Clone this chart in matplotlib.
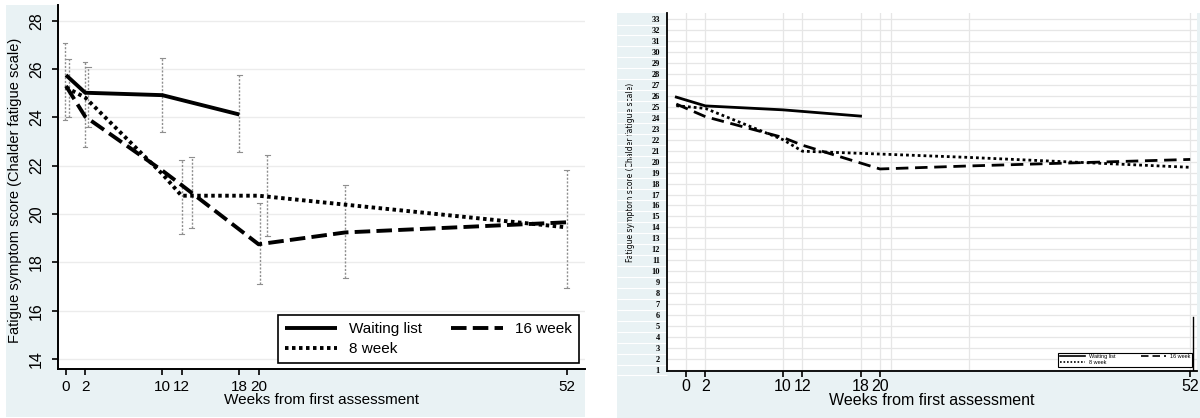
"""Fatigue score over time: two panel versions of the same trial plot."""
import matplotlib
matplotlib.use("Agg")
import matplotlib.pyplot as plt
from matplotlib.patches import Rectangle

W, H = 1200, 418
BG = "#e9f2f4"
SANS = ["Liberation Sans", "DejaVu Sans"]

# left panel (with confidence bars)
L_WEEKS_WAIT = [0, 2, 10, 18]
L_WAIT = [25.75, 25.02, 24.92, 24.12]
L_WEEKS_TX = [0, 2, 10, 12, 20, 29, 52]
L_16WK = [25.30, 24.03, 21.80, 21.20, 18.75, 19.24, 19.66]
L_8WK = [25.24, 24.82, 21.66, 20.76, 20.76, 20.39, 19.45]
# error bars: position, lower, upper
CI_X = [-0.1, 0.3, 1.97, 2.3, 10.0, 18.0, 12.0, 13.05, 20.1, 20.9, 29.0, 52.0]
CI_LO = [23.90, 24.00, 22.78, 23.60, 23.40, 22.58, 19.17, 19.41, 17.10, 19.09, 17.34, 16.93]
CI_HI = [27.06, 26.40, 26.30, 26.10, 26.44, 25.74, 22.23, 22.37, 20.44, 22.44, 21.20, 21.82]

# right panel
R_WEEKS_WAIT = [-1, 2, 10, 18]
R_WAIT = [25.88, 25.08, 24.72, 24.15]
R_WEEKS_TX = [-1, 2, 10, 12, 20, 29, 52]
R_16WK = [25.25, 24.10, 22.20, 21.50, 19.33, 19.60, 20.20]
R_8WK = [25.10, 24.85, 22.00, 20.95, 20.69, 20.39, 19.48]
R_EXTRA_VLINES = [21.1, 29.2]

XTICKS = [0, 2, 10, 12, 18, 20, 52]
XLABEL = "Weeks from first assessment"
YLABEL = "Fatigue symptom score (Chalder fatigue scale)"


def rect(x0, y0, x1, y1):
    """pixel box (top-left origin) -> figure fraction rect"""
    return [x0 / W, 1 - y1 / H, (x1 - x0) / W, (y1 - y0) / H]


fig = plt.figure(figsize=(W / 100, H / 100), dpi=100, facecolor="white")
for x0, y0, x1, y1 in ((6, 5, 585, 417), (617, 13, 1200, 418)):
    r = rect(x0, y0, x1, y1)
    fig.patches.append(Rectangle(r[:2], r[2], r[3], transform=fig.transFigure,
                                 facecolor=BG, edgecolor="none", zorder=-5))

# ---- left panel
ax = fig.add_axes(rect(58, 5, 585, 369))
ax.set_facecolor("white")
ax.set_xlim(-0.83, 53.9)
ax.set_ylim(13.59, 28.65)
for s in ("top", "right"):
    ax.spines[s].set_visible(False)
for s in ("left", "bottom"):
    ax.spines[s].set_linewidth(1.4)
ax.set_yticks(range(14, 29, 2))
ax.set_yticklabels([str(v) for v in range(14, 29, 2)], rotation=90, va="center",
                   family=SANS, fontsize=11.5)
ax.set_xticks(XTICKS)
ax.set_xticklabels([str(v) for v in XTICKS], family=SANS, fontsize=11)
ax.tick_params(axis="x", length=4, width=1.2, pad=4)
ax.tick_params(axis="y", length=4, width=1.2, pad=6)
ax.grid(axis="y", color="#ececec", lw=1)
ax.set_axisbelow(True)

ax.vlines(CI_X, CI_LO, CI_HI, colors="#8f8f8f", lw=1, linestyles=(0, (1.5, 1.2)))
for cx, lo, hi in zip(CI_X, CI_LO, CI_HI):
    ax.plot([cx - 0.25, cx + 0.25], [lo, lo], color="#8f8f8f", lw=0.8)
    ax.plot([cx - 0.25, cx + 0.25], [hi, hi], color="#8f8f8f", lw=0.8)

ax.plot(L_WEEKS_WAIT, L_WAIT, color="black", lw=2.8, label="Waiting list",
        solid_capstyle="butt")
ax.plot(L_WEEKS_TX, L_8WK, color="black", lw=2.8, ls=(0, (0.9, 0.9)),
        label="8 week")
ax.plot(L_WEEKS_TX, L_16WK, color="black", lw=2.8, ls=(0, (4, 1.6)),
        label="16 week")
leg = ax.legend(loc="lower left", bbox_to_anchor=(0.417, 0.0165, 0.572, 0.13),
                mode="expand", ncol=2, fancybox=False, framealpha=1,
                edgecolor="black", handlelength=3.4, handletextpad=0.8,
                labelspacing=0.4, borderpad=0.45, borderaxespad=0,
                columnspacing=1.2, prop={"family": SANS, "size": 11})
leg.get_frame().set_linewidth(1.2)
ax.set_xlabel(XLABEL, family=SANS, fontsize=11, labelpad=-1)
ax.set_ylabel(YLABEL, family=SANS, fontsize=10.5, labelpad=2)
ax.yaxis.set_label_coords(-0.068, 0.49)

# ---- right panel
ax2 = fig.add_axes(rect(667, 13, 1197, 371))
ax2.set_facecolor("white")
ax2.set_xlim(-1.96, 52.7)
ax2.set_ylim(0.91, 33.55)
for s in ("top", "right"):
    ax2.spines[s].set_visible(False)
for s in ("left", "bottom"):
    ax2.spines[s].set_linewidth(1.3)
yt = list(range(1, 34))
ax2.set_yticks(yt)
ax2.set_yticklabels([str(v) for v in yt], family=["Liberation Serif", "DejaVu Serif"],
                    fontsize=6, fontweight="bold")
ax2.tick_params(axis="y", length=0, pad=5)
ax2.set_xticks(XTICKS)
ax2.set_xticklabels([str(v) for v in XTICKS], family=SANS, fontsize=11.5)
ax2.tick_params(axis="x", length=4, width=1.2, pad=2)
ax2.grid(color="#e6e6e6", lw=0.9)
for vx in R_EXTRA_VLINES:
    ax2.axvline(vx, color="#e6e6e6", lw=0.9, zorder=0)
ax2.set_axisbelow(True)
# white separators in the label column
ax2.hlines([v - 0.5 for v in yt], -0.094, 0, transform=ax2.get_yaxis_transform(),
           colors="white", lw=0.8, clip_on=False)
ax2.axvline(52.3, ymin=0, ymax=0.15, color="black", lw=1)

ax2.plot(R_WEEKS_WAIT, R_WAIT, color="black", lw=2.0, label="Waiting list")
ax2.plot(R_WEEKS_TX, R_8WK, color="black", lw=2.0, ls=(0, (1, 1.1)), label="8 week")
ax2.plot(R_WEEKS_TX, R_16WK, color="black", lw=2.0, ls=(0, (4.5, 2.4)),
         label="16 week")
leg2 = ax2.legend(loc="lower left", bbox_to_anchor=(0.738, 0.011, 0.253, 0.05),
                  mode="expand", ncol=2, fancybox=False, framealpha=1,
                  edgecolor="black", handlelength=4.5, handletextpad=0.8,
                  labelspacing=0.2, borderpad=0.3, borderaxespad=0,
                  columnspacing=1.5, prop={"family": SANS, "size": 4})
leg2.get_frame().set_linewidth(0.8)
for ln in leg2.get_lines():
    ln.set_linewidth(1.2)
ax2.set_xlabel(XLABEL, family=SANS, fontsize=11.5, labelpad=-1)
ax2.set_ylabel(YLABEL, fontsize=5.5)
ax2.yaxis.set_label_coords(-0.06, 0.556)

fig.savefig("out.png", dpi=100)
